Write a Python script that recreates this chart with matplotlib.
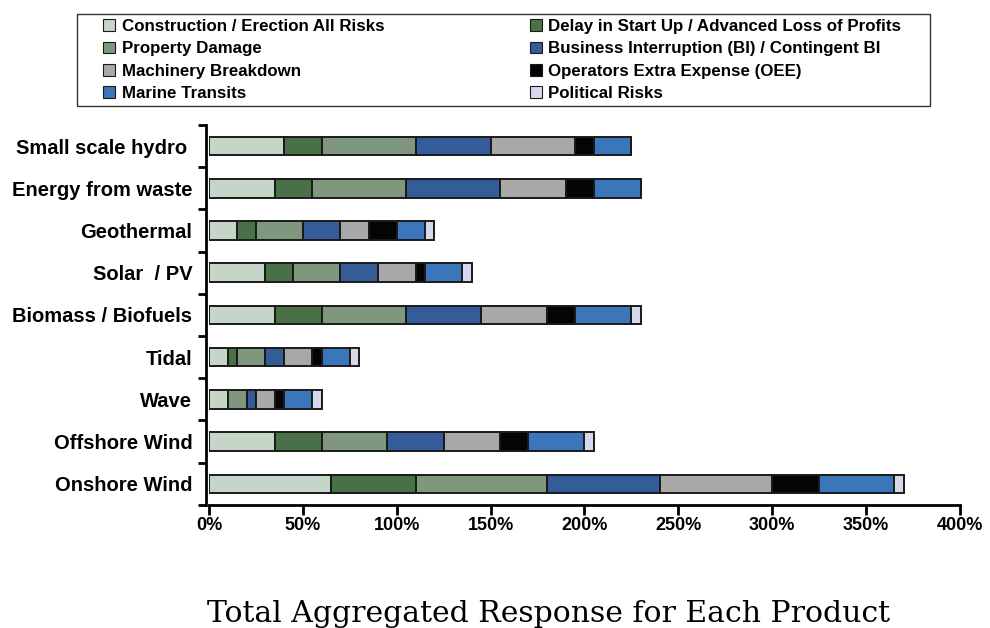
import numpy as np
import matplotlib
matplotlib.use("Agg")
import matplotlib.pyplot as plt
from matplotlib.patches import Rectangle
from matplotlib.ticker import FuncFormatter, MultipleLocator

# categories, top to bottom as drawn
products = ["Small scale hydro ", "Energy from waste", "Geothermal", "Solar  / PV",
            "Biomass / Biofuels", "Tidal", "Wave", "Offshore Wind", "Onshore Wind"]

# percent response per risk type, same order as products
construction = [40, 35, 15, 30, 35, 10, 10, 35, 65]
delay        = [20, 20, 10, 15, 25, 5, 0, 25, 45]
property_dmg = [50, 50, 25, 25, 45, 15, 10, 35, 70]
business_int = [40, 50, 20, 20, 40, 10, 5, 30, 60]
machinery    = [45, 35, 15, 20, 35, 15, 10, 30, 60]
oee          = [10, 15, 15, 5, 15, 5, 5, 15, 25]
marine       = [20, 25, 15, 20, 30, 15, 15, 30, 40]
political    = [0, 0, 5, 5, 5, 5, 5, 5, 5]

series = [
    ("Construction / Erection All Risks", construction, "#c5d6c8"),
    ("Delay in Start Up / Advanced Loss of Profits", delay, "#4a7047"),
    ("Property Damage", property_dmg, "#7f977d"),
    ("Business Interruption (BI) / Contingent BI", business_int, "#335c99"),
    ("Machinery Breakdown", machinery, "#a8a8a8"),
    ("Operators Extra Expense (OEE)", oee, "#040404"),
    ("Marine Transits", marine, "#3c76ba"),
    ("Political Risks", political, "#d8d8ec"),
]

plt.rcParams["font.family"] = ["Liberation Sans", "DejaVu Sans"]

fig = plt.figure(figsize=(9.9, 6.28), dpi=100)
ax = fig.add_axes([0.2111, 0.196, 0.7586, 0.605])

# spines first: set_position resets the ticks
for s in ["top", "right"]:
    ax.spines[s].set_visible(False)
ax.spines["left"].set_linewidth(2)
ax.spines["bottom"].set_linewidth(2)
ax.spines["left"].set_position(("outward", 2))

y = np.arange(len(products))[::-1]
left = np.zeros(len(products))
handles = {}
for name, vals, col in series:
    vals = np.array(vals, dtype=float)
    b = ax.barh(y, vals, left=left, height=0.44, color=col,
                edgecolor="#1a1a1a", linewidth=1.4)
    handles[name] = b
    left += vals

ax.set_xlim(0, 400)
ax.set_ylim(-0.5, len(products) - 0.5)
ax.xaxis.set_major_locator(MultipleLocator(50))
ax.xaxis.set_major_formatter(FuncFormatter(lambda v, p: f"{int(v)}%"))
ax.set_yticks(np.arange(-0.5, len(products)), minor=True)
ax.set_yticks(y)
ax.set_yticklabels(products)
ax.tick_params(axis="y", which="major", length=0, pad=10, labelsize=14.5)
ax.tick_params(axis="y", which="minor", length=6, width=2, direction="out")
ax.tick_params(axis="x", length=7, width=2, direction="out", labelsize=13, pad=2)
for lab in ax.get_xticklabels() + ax.get_yticklabels():
    lab.set_fontweight("bold")

# legend box
fig.patches.append(Rectangle((0.0778, 0.8312), 0.8616, 0.1465,
                             transform=fig.transFigure, fill=False,
                             edgecolor="#333333", linewidth=1.0))
order = [0, 2, 4, 6, 1, 3, 5, 7]
h = [handles[series[i][0]] for i in order]
l = [series[i][0] for i in order]
leg = fig.legend(h, l, ncol=2, loc="center",
                 bbox_to_anchor=(0.1045, 0.8312, 0.806, 0.1465), mode="expand",
                 frameon=False, prop={"weight": "bold", "size": 12.2},
                 handlelength=0.7, handleheight=0.7, handletextpad=0.4,
                 labelspacing=0.43, borderpad=0, borderaxespad=0)
for p in leg.get_patches():
    p.set_linewidth(0.8)

fig.text(0.5545, 0.01, "Total Aggregated Response for Each Product",
         ha="center", va="baseline", fontsize=21.5, family="DejaVu Serif",
         fontweight="light")

fig.savefig("out.png", dpi=100)
